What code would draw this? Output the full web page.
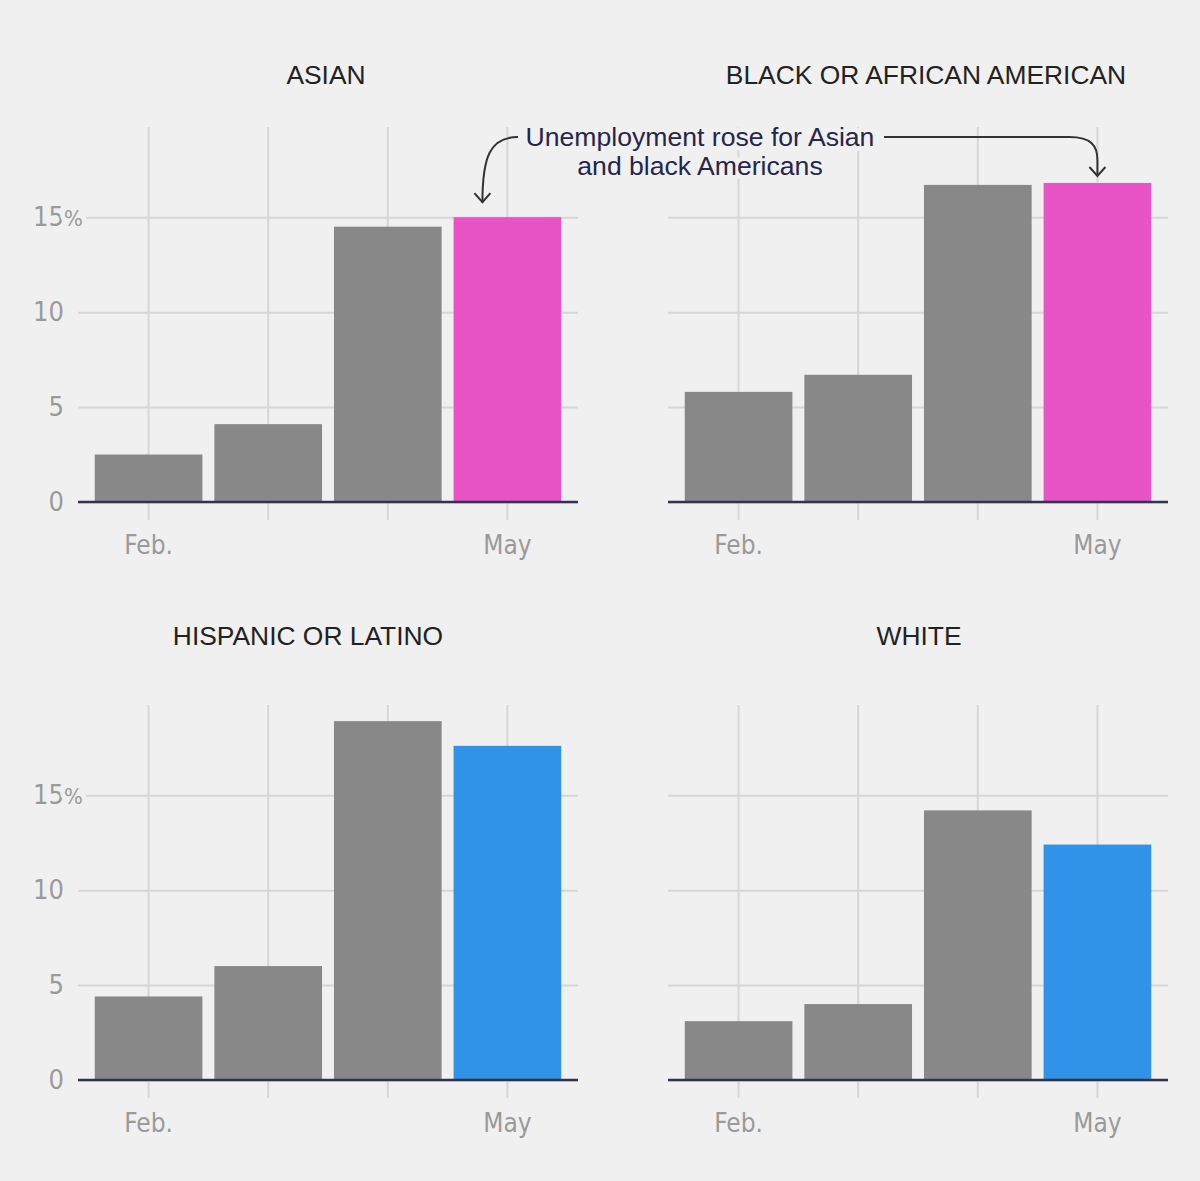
<!DOCTYPE html>
<html>
<head>
<meta charset="utf-8">
<script src="https://cdn.jsdelivr.net/npm/d3@7"></script>
<style>
  html, body { margin: 0; padding: 0; background: #f0f0f0; }
  svg { display: block; }
</style>
</head>
<body>
<script>
// unemployment rate by race, Feb.–May 2020
const months = ["Feb.", "Mar.", "Apr.", "May"];
const monthLabels = ["Feb.", "", "", "May"];
const groups = ["ASIAN", "BLACK OR AFRICAN AMERICAN", "HISPANIC OR LATINO", "WHITE"];
const asian = [2.5, 4.1, 14.5, 15.0];
const black = [5.8, 6.7, 16.7, 16.8];
const hispanic = [4.4, 6.0, 18.9, 17.6];
const white = [3.1, 4.0, 14.2, 12.4];
const yTicks = [0, 5, 10, 15];
const note = ["Unemployment rose for Asian", "and black Americans"];

const series = [asian, black, hispanic, white];
const mayColors = ["#e854c6", "#e854c6", "#3193e8", "#3193e8"];

const W = 1200;
const H = 1181;
const pw = 500;
const ph = 375;

// panel origins (top-left of plot area) and title placement
const panels = [
    { x: 78, y: 127, tx: 248, ty: -43, yLabels: true },
    { x: 668, y: 127, tx: 258, ty: -43, yLabels: false },
    { x: 78, y: 705, tx: 230, ty: -60, yLabels: true },
    { x: 668, y: 705, tx: 251, ty: -60, yLabels: false },
];

const tickFont = "'DejaVu Sans', sans-serif";
const textFont = "'Liberation Sans', Arial, sans-serif";

const x = d3
    .scaleBand()
    .domain(months)
    .range([0, pw])
    .paddingInner(0.1)
    .paddingOuter(0.14);

const y = d3
    .scaleLinear()
    .domain([0, 19.75])
    .range([ph, 0]);

const svg = d3
    .select("body")
    .append("svg")
    .attr("width", W)
    .attr("height", H);

svg
    .append("rect")
    .attr("width", W)
    .attr("height", H)
    .attr("fill", "#f0f0f0");

const halo = sel =>
    sel
        .attr("stroke", "#f0f0f0")
        .attr("stroke-width", 10)
        .attr("stroke-linejoin", "round")
        .attr("paint-order", "stroke");

panels.forEach((p, gi) => {
    const g = svg.append("g").attr("transform", `translate(${p.x},${p.y})`);
    const values = series[gi];

    g
        .append("text")
        .attr("x", p.tx)
        .attr("y", p.ty)
        .attr("text-anchor", "middle")
        .attr("font-family", textFont)
        .attr("font-size", "26.4px")
        .attr("fill", "#222")
        .text(groups[gi]);

    // horizontal grid + y labels
    const yAxis = g
        .append("g")
        .call(
            d3
                .axisLeft(y)
                .tickValues(yTicks)
                .tickSize(-pw)
                .tickPadding(14)
                .tickFormat(d => d),
        );
    yAxis.select(".domain").remove();
    yAxis
        .selectAll(".tick line")
        .attr("stroke", "#d6d6d6")
        .attr("stroke-width", 2);
    yAxis
        .selectAll(".tick text")
        .attr("font-family", tickFont)
        .attr("font-stretch", "condensed")
        .attr("font-size", "27px")
        .attr("fill", "#9a9a9a")
        .style("opacity", p.yLabels ? 1 : 0)
        .call(halo);
    yAxis
        .selectAll(".tick text")
        .filter(d => d === 15)
        .attr("text-anchor", "start")
        .attr("x", -45)
        .append("tspan")
        .attr("font-size", "22px")
        .text("%");

    // vertical grid lines, running down past the baseline as ticks
    g
        .selectAll(".vgrid")
        .data(months)
        .enter()
        .append("line")
        .attr("x1", d => x(d) + x.bandwidth() / 2)
        .attr("x2", d => x(d) + x.bandwidth() / 2)
        .attr("y1", 0)
        .attr("y2", ph + 18)
        .attr("stroke", "#d6d6d6")
        .attr("stroke-width", 2);

    g
        .selectAll(".bar")
        .data(values)
        .enter()
        .append("rect")
        .attr("x", (d, i) => x(months[i]))
        .attr("y", d => y(d))
        .attr("width", x.bandwidth())
        .attr("height", d => ph - y(d))
        .attr("fill", (d, i) => (i === months.length - 1 ? mayColors[gi] : "#888888"));

    g
        .append("line")
        .attr("x1", 0)
        .attr("x2", pw)
        .attr("y1", y(0))
        .attr("y2", y(0))
        .attr("stroke", "#33334f")
        .attr("stroke-width", 2.5);

    g
        .selectAll(".xlab")
        .data(months)
        .enter()
        .append("text")
        .attr("x", d => x(d) + x.bandwidth() / 2)
        .attr("y", ph + 52)
        .attr("text-anchor", "middle")
        .attr("font-family", tickFont)
        .attr("font-stretch", "condensed")
        .attr("font-size", "26px")
        .attr("fill", "#9a9a9a")
        .text((d, i) => monthLabels[i]);
});

// annotation pointing at the May bars of the top two panels
const a = panels[0];
const b = panels[1];
const tipA = [a.x + x("May") + x.bandwidth() / 2 - 25, a.y + y(asian[3]) - 15];
const tipB = [b.x + x("May") + x.bandwidth() / 2, b.y + y(black[3]) - 7];
const noteX = 700;
const noteY = 146;

const ann = svg.append("g");

ann
    .append("path")
    .attr("d", `M${noteX - 182},${noteY - 9} C${tipA[0] + 8},${noteY - 9} ${tipA[0]},${noteY + 10} ${tipA[0]},${tipA[1]}`)
    .attr("fill", "none")
    .attr("stroke", "#333")
    .attr("stroke-width", 2);
ann
    .append("path")
    .attr("d", `M${noteX + 184},${noteY - 9} L${tipB[0] - 28},${noteY - 9} C${tipB[0] - 6},${noteY - 9} ${tipB[0]},${noteY} ${tipB[0]},${noteY + 14} L${tipB[0]},${tipB[1]}`)
    .attr("fill", "none")
    .attr("stroke", "#333")
    .attr("stroke-width", 2);

[tipA, tipB].forEach(t => {
    ann
        .append("path")
        .attr("d", `M${t[0] - 8},${t[1] - 9} L${t[0]},${t[1]} L${t[0] + 8},${t[1] - 9}`)
        .attr("fill", "none")
        .attr("stroke", "#333")
        .attr("stroke-width", 2);
});

ann
    .selectAll(".note")
    .data(note)
    .enter()
    .append("text")
    .attr("x", noteX)
    .attr("y", (d, i) => noteY + i * 29)
    .attr("text-anchor", "middle")
    .attr("font-family", textFont)
    .attr("font-size", "26.6px")
    .attr("fill", "#26264a")
    .call(halo)
    .text(d => d);
</script>
</body>
</html>
